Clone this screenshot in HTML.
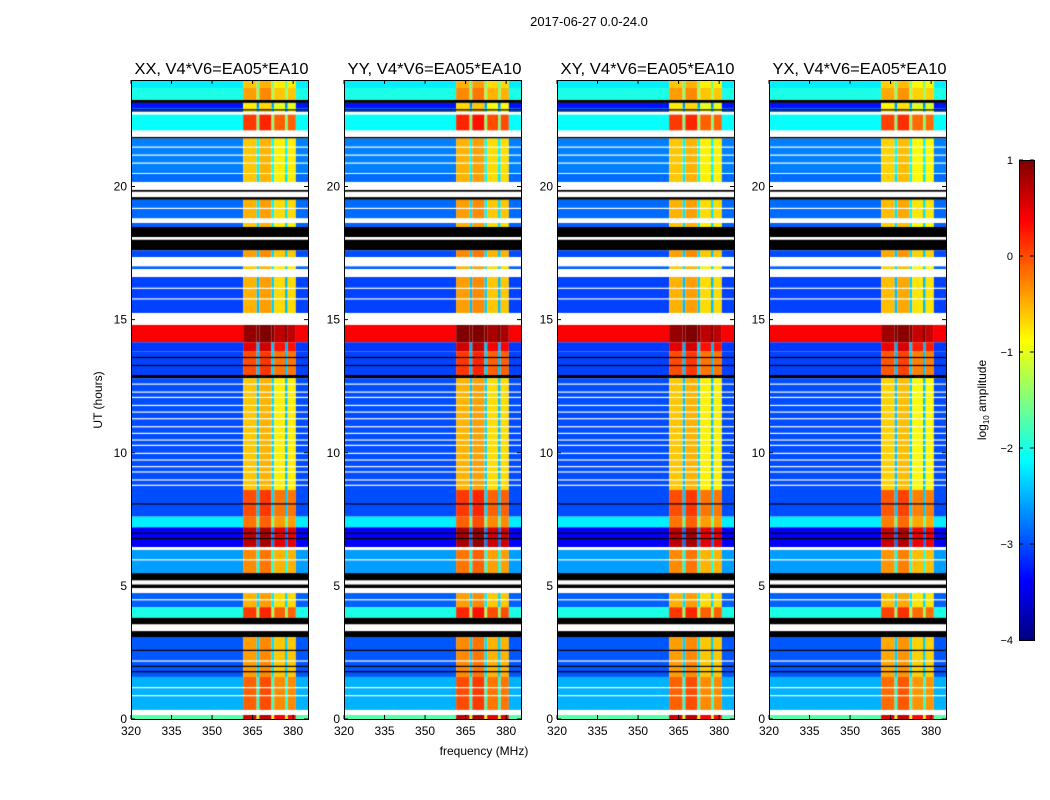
<!DOCTYPE html>
<html><head><meta charset="utf-8">
<style>
html,body{margin:0;padding:0;background:#fff;width:1050px;height:800px;overflow:hidden;font-family:"Liberation Sans",sans-serif;}
canvas{position:absolute;}
svg{position:absolute;left:0;top:0;}
</style></head>
<body>
<canvas id="c0"></canvas>
<canvas id="c1"></canvas>
<canvas id="c2"></canvas>
<canvas id="c3"></canvas>
<canvas id="cb"></canvas>
<svg id="ov" width="1050" height="800"></svg>
<script>
// ---- data ----
const panelTitles = ["XX, V4*V6=EA05*EA10","YY, V4*V6=EA05*EA10","XY, V4*V6=EA05*EA10","YX, V4*V6=EA05*EA10"];
const panelRfiOffset = [0, 0.1, 0, -0.05];
const xTicks = [320,335,350,365,380];
const yTicks = [0,5,10,15,20];
const cbTicks = [1,0,-1,-2,-3,-4];
// time bands [startHour, endHour, backgroundLevel ('w' flagged, 'k' black), rfiLevel]
const timeBands = [
[23.7,24,-2.2,-0.6],[23.25,23.7,-2.0,-0.4],[23.14,23.25,'k'],[22.95,23.14,-3.3,-0.8],
[22.8,22.95,-2.9,-0.7],[22.7,22.8,'w'],[22.1,22.7,-2.1,0.1],[21.86,22.1,'w'],[21.8,21.86,'k'],
[20.5,21.8,-2.75,-0.6],[20.47,20.5,'w'],[20.17,20.47,-2.85,-0.6],[19.87,20.17,'w'],[19.8,19.87,'k'],
[19.6,19.8,'w'],[19.5,19.6,'k'],[18.8,19.5,-2.85,-0.5],[18.63,18.8,'w'],[18.48,18.63,-2.9,-0.6],
[18.1,18.48,'k'],[18.0,18.1,'w'],[17.6,18.0,'k'],[17.35,17.6,-3.0,-0.4],[16.6,17.35,'w'],
[16.9,17.0,-2.9,-0.6],[15.25,16.6,-3.05,-0.5],[14.8,15.25,'w'],[14.15,14.8,0.4,0.9],
[13.8,14.15,-3.1,0.5],[12.92,13.8,-3.05,0.0],[12.8,12.92,'k'],[8.6,12.8,-3.0,-0.6],
[7.6,8.6,-3.0,0.0],[7.2,7.6,-2.2,-0.2],[6.46,7.2,-3.4,0.7],[6.35,6.46,'w'],[5.48,6.35,-2.6,-0.3],
[5.2,5.48,'k'],[5.05,5.2,'w'],[4.92,5.05,'k'],[4.73,4.92,'w'],[4.2,4.73,-2.9,-0.5],
[3.8,4.2,-2.0,0.1],[3.55,3.8,'k'],[3.3,3.55,'w'],[3.08,3.3,'k'],[1.58,3.08,-2.95,-0.4],
[0.34,1.58,-2.5,-0.1],[0.15,0.34,'w'],[0,0.15,-1.7,0.6]
];
const whiteLines = [12.6,12.3,12.1,11.8,11.55,11.3,11.0,10.75,10.5,10.3,10.0,9.75,9.5,9.3,9.0,8.8,20.9,21.2,21.5,16.2,15.8,2.2,1.2,0.9,4.5,6.0,19.2];
const blackLines = [6.8,7.0,2.6,2.0,1.8,13.3,13.6,22.9,8.1];
// frequency segments [startMHz, endMHz, isRfi, offset]
const freqSegs = [[320,361.5,0,0],[361.5,366.5,1,0],[366.5,367.5,0,0.6],[367.5,372,1,0.1],
[372,373,0,0.7],[373,377,1,-0.2],[377,378,0,0.6],[378,381,1,-0.2],[381,385.5,0,0]];

// ---- layout ----
const panelX = [131,344,557,769];
const PW = 177, PT = 80, PB = 719;
const fMin = 320, fMax = 385.5, tMin = 0, tMax = 24;
const vMin = -4, vMax = 1;
function xs(f){return (f-fMin)/(fMax-fMin)*PW;}
function ys(t){return (PB-PT)-(t-tMin)/(tMax-tMin)*(PB-PT);}
function jet(v){
  let x=(v-vMin)/(vMax-vMin); x=Math.max(0,Math.min(1,x));
  const r=Math.max(0,Math.min(1,1.5-Math.abs(4*x-3)));
  const g=Math.max(0,Math.min(1,1.5-Math.abs(4*x-2)));
  const b=Math.max(0,Math.min(1,1.5-Math.abs(4*x-1)));
  return `rgb(${Math.round(r*255)},${Math.round(g*255)},${Math.round(b*255)})`;
}
for(let p=0;p<4;p++){
  const c=document.getElementById('c'+p);
  c.width=PW;c.height=PB-PT;c.style.left=panelX[p]+'px';c.style.top=PT+'px';
  const g=c.getContext('2d');
  g.fillStyle='#fff';g.fillRect(0,0,PW,PB-PT);
  for(const b of timeBands){
    const y0=ys(b[1]), y1=ys(b[0]);
    if(b[2]==='w'){g.fillStyle='#fff';g.fillRect(0,y0,PW,y1-y0);continue;}
    if(b[2]==='k'){g.fillStyle='#000';g.fillRect(0,y0,PW,y1-y0);continue;}
    for(const s of freqSegs){
      const v = s[2] ? b[3]+s[3]+panelRfiOffset[p] : b[2]+s[3];
      g.fillStyle=jet(v);
      const x0=xs(s[0]), x1=xs(s[1]);
      g.fillRect(x0,y0,x1-x0,y1-y0);
    }
  }
  g.fillStyle='#fff';
  for(const t of whiteLines) g.fillRect(0,ys(t),PW,1.2);
  g.fillStyle='#000';
  for(const t of blackLines) g.fillRect(0,ys(t),PW,1.2);
}
// colorbar
const cb=document.getElementById('cb');
cb.width=15;cb.height=480;cb.style.left='1019px';cb.style.top='160px';
const cg=cb.getContext('2d');
for(let i=0;i<480;i++){cg.fillStyle=jet(vMax-(i/480)*(vMax-vMin));cg.fillRect(0,i,15,1);}

// overlay
const NS='http://www.w3.org/2000/svg';
const ov=document.getElementById('ov');
function el(tag,attrs,text){const e=document.createElementNS(NS,tag);for(const k in attrs)e.setAttribute(k,attrs[k]);if(text!==undefined)e.textContent=text;ov.appendChild(e);return e;}
let t=el('text',{x:589,y:26,'font-size':13,'text-anchor':'middle','font-family':'Liberation Sans'},'2017-06-27 0.0-24.0');

for(let p=0;p<4;p++){
  const X=panelX[p];
  const fr=el('rect',{x:X+0.5,y:PT+0.5,width:PW,height:PB-PT,fill:'none',stroke:'#000','stroke-width':1});
  
  const tt=el('text',{x:X+PW/2+2,y:74,'font-size':16,'text-anchor':'middle','font-family':'Liberation Sans',textLength:174,lengthAdjust:'spacingAndGlyphs'},panelTitles[p]);
  
  for(const f of xTicks){
    const x=X+xs(f);
    el('line',{x1:x,y1:PB,x2:x,y2:PB-4,stroke:'#000'});
    el('line',{x1:x,y1:PT,x2:x,y2:PT+4,stroke:'#000'});
    const lb=el('text',{x:x,y:PB+16,'font-size':12,'text-anchor':'middle','font-family':'Liberation Sans'},String(f));
    
  }
  for(const h of yTicks){
    const y=PT+ys(h);
    el('line',{x1:X,y1:y,x2:X+4,y2:y,stroke:'#000'});
    el('line',{x1:X+PW,y1:y,x2:X+PW-4,y2:y,stroke:'#000'});
    const lb=el('text',{x:X-4,y:y+4,'font-size':12,'text-anchor':'end','font-family':'Liberation Sans'},String(h));
    
  }
}
t=el('text',{x:102,y:400,'font-size':12,'text-anchor':'middle',transform:'rotate(-90 102 400)','font-family':'Liberation Sans'},'UT (hours)');

t=el('text',{x:484,y:755,'font-size':12,'text-anchor':'middle','font-family':'Liberation Sans'},'frequency (MHz)');

const cbf=el('rect',{x:1019.5,y:160.5,width:15,height:480,fill:'none',stroke:'#000'});

for(const v of cbTicks){
  const y=160+(vMax-v)/(vMax-vMin)*480;
  el('line',{x1:1019,y1:y,x2:1023,y2:y,stroke:'#000'});
  el('line',{x1:1034,y1:y,x2:1030,y2:y,stroke:'#000'});
  const lb=el('text',{x:1013,y:y+4,'font-size':11,'text-anchor':'end','font-family':'Liberation Sans'},v<0?'\u2212'+(-v):String(v));
  
}
t=el('text',{x:986,y:400,'font-size':12,'text-anchor':'middle',transform:'rotate(-90 986 400)','font-family':'Liberation Sans'});

const s1=document.createElementNS(NS,'tspan');s1.textContent='log';t.appendChild(s1);
const s2=document.createElementNS(NS,'tspan');s2.setAttribute('font-size','8');s2.setAttribute('dy','3');s2.textContent='10';t.appendChild(s2);
const s3=document.createElementNS(NS,'tspan');s3.setAttribute('dy','-3');s3.textContent=' amplitude';t.appendChild(s3);
</script>
</body></html>
